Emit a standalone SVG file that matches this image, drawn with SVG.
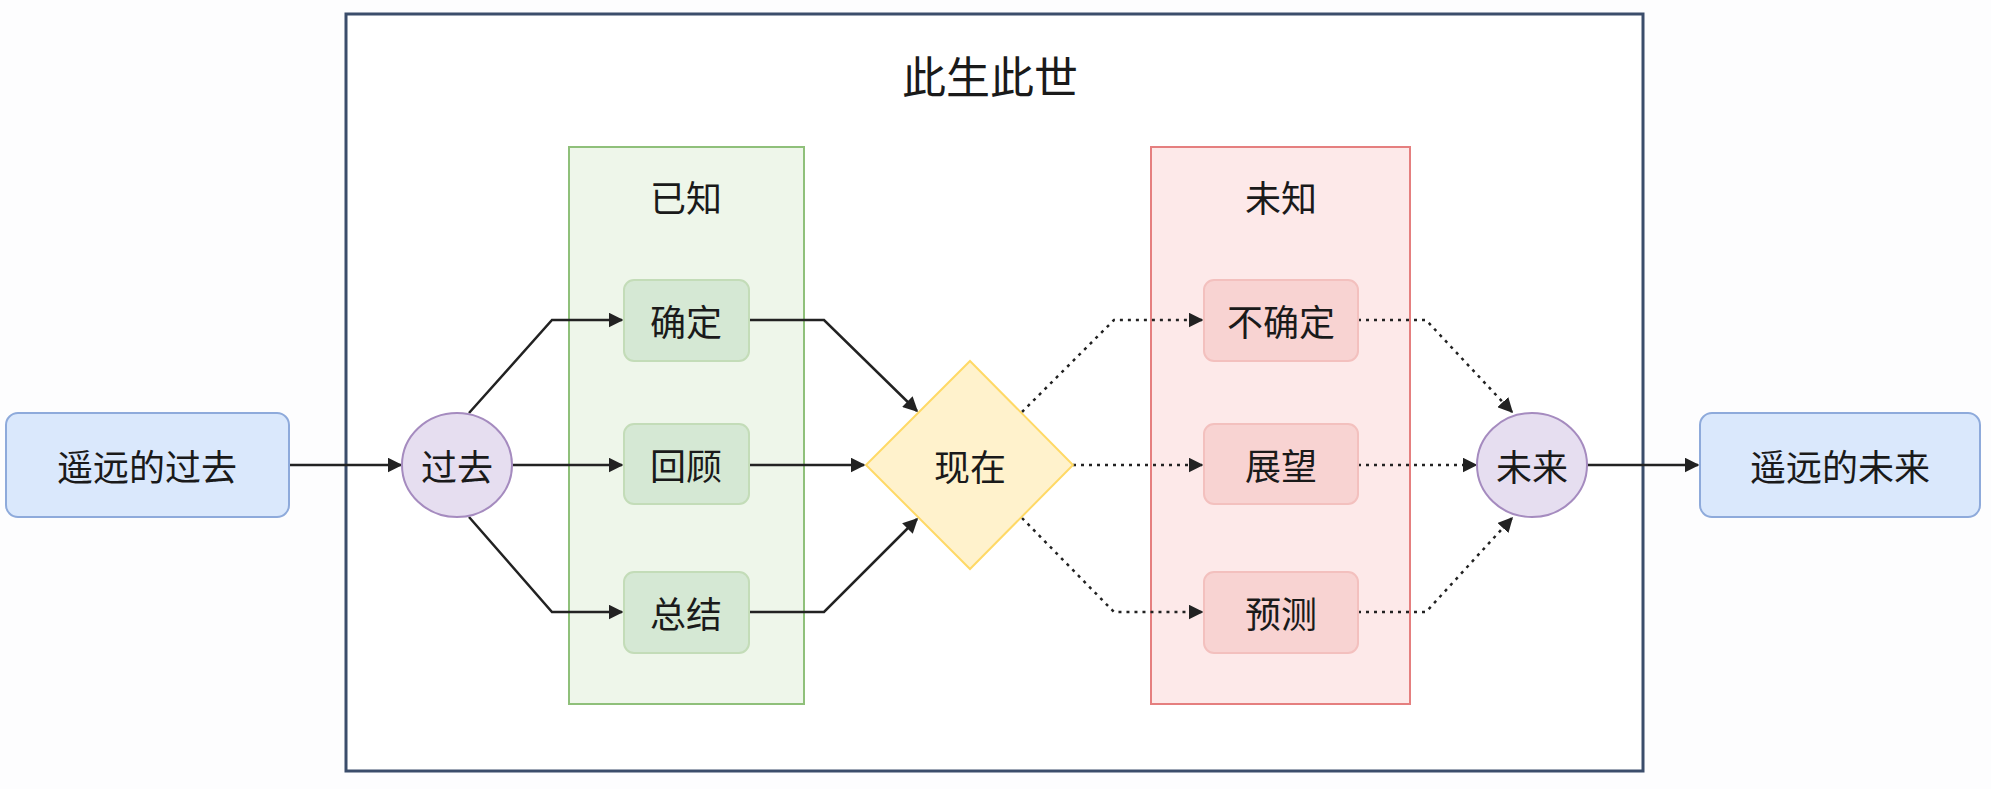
<svg xmlns="http://www.w3.org/2000/svg" width="1991" height="789" viewBox="0 0 1991 789">
<style>
text{font-family:"Noto Sans CJK SC","Noto Sans",sans-serif;font-size:36px;fill:#1a1a1a;text-anchor:middle;dominant-baseline:central}
.e{fill:none;stroke:#222;stroke-width:2.5}
.d{stroke-dasharray:3 5}
.g{fill:#d5e8d4;stroke:#c3dcb8;stroke-width:2}
.r{fill:#f8d3d2;stroke:#f3c0be;stroke-width:2}
.b{fill:#dae8fc;stroke:#8eaadb;stroke-width:2}
.p{fill:#e6def0;stroke:#a58bbf;stroke-width:2}
</style>
<defs><marker id="a" viewBox="0 0 10 10" refX="9" refY="5" markerWidth="6" markerHeight="6" orient="auto"><path d="M0,0L10,5L0,10z" fill="#222"/></marker></defs>
<rect width="1991" height="789" fill="#fdfdfe"/>
<g id="frame"><rect x="346" y="14" width="1297" height="757" fill="#fff" stroke="#3b4d6b" stroke-width="3"/><text x="990" y="75" style="font-size:44px">此生此世</text></g>
<g id="known"><rect x="569" y="147" width="235" height="557" fill="#eef6ea" stroke="#8fc07a" stroke-width="2"/><text x="686" y="196">已知</text></g>
<g id="unknown"><rect x="1151" y="147" width="259" height="557" fill="#fde9e9" stroke="#e57f7f" stroke-width="2"/><text x="1281" y="196">未知</text></g>
<g id="connectors">
<path class="e" d="M289,465H401" marker-end="url(#a)"/>
<path class="e" d="M469,413L552,320H622" marker-end="url(#a)"/>
<path class="e" d="M512,465H622" marker-end="url(#a)"/>
<path class="e" d="M469,517L552,612H622" marker-end="url(#a)"/>
<path class="e" d="M749,320H824L917,411" marker-end="url(#a)"/>
<path class="e" d="M749,465H864" marker-end="url(#a)"/>
<path class="e" d="M749,612H824L917,519" marker-end="url(#a)"/>
<path class="e d" d="M1022,412L1114,320H1202" marker-end="url(#a)"/>
<path class="e d" d="M1073,465H1202" marker-end="url(#a)"/>
<path class="e d" d="M1022,518L1114,612H1202" marker-end="url(#a)"/>
<path class="e d" d="M1358,320H1426L1512,412" marker-end="url(#a)"/>
<path class="e d" d="M1358,465H1476" marker-end="url(#a)"/>
<path class="e d" d="M1358,612H1426L1512,518" marker-end="url(#a)"/>
<path class="e" d="M1587,465H1698" marker-end="url(#a)"/>
</g>
<g id="far-past"><rect class="b" x="6" y="413" width="283" height="104" rx="12"/><text x="147" y="465">遥远的过去</text></g>
<g id="past"><ellipse class="p" cx="457" cy="465" rx="55" ry="52"/><text x="457" y="465">过去</text></g>
<g id="certain"><rect class="g" x="624" y="280" width="125" height="81" rx="10"/><text x="686" y="320">确定</text></g>
<g id="review"><rect class="g" x="624" y="424" width="125" height="80" rx="10" stroke="#a9c99a"/><text x="686" y="464">回顾</text></g>
<g id="summary"><rect class="g" x="624" y="572" width="125" height="81" rx="10"/><text x="686" y="612">总结</text></g>
<g id="now"><path d="M970,361L1073,465L970,569L866,465z" fill="#fff2cc" stroke="#ffd966" stroke-width="2"/><text x="970" y="465">现在</text></g>
<g id="uncertain"><rect class="r" x="1204" y="280" width="154" height="81" rx="10"/><text x="1281" y="320">不确定</text></g>
<g id="outlook"><rect class="r" x="1204" y="424" width="154" height="80" rx="10" stroke="#eaa9a7"/><text x="1281" y="464">展望</text></g>
<g id="predict"><rect class="r" x="1204" y="572" width="154" height="81" rx="10"/><text x="1281" y="612">预测</text></g>
<g id="future"><ellipse class="p" cx="1532" cy="465" rx="55" ry="52"/><text x="1532" y="465">未来</text></g>
<g id="far-future"><rect class="b" x="1700" y="413" width="280" height="104" rx="12"/><text x="1840" y="465">遥远的未来</text></g>
</svg>
